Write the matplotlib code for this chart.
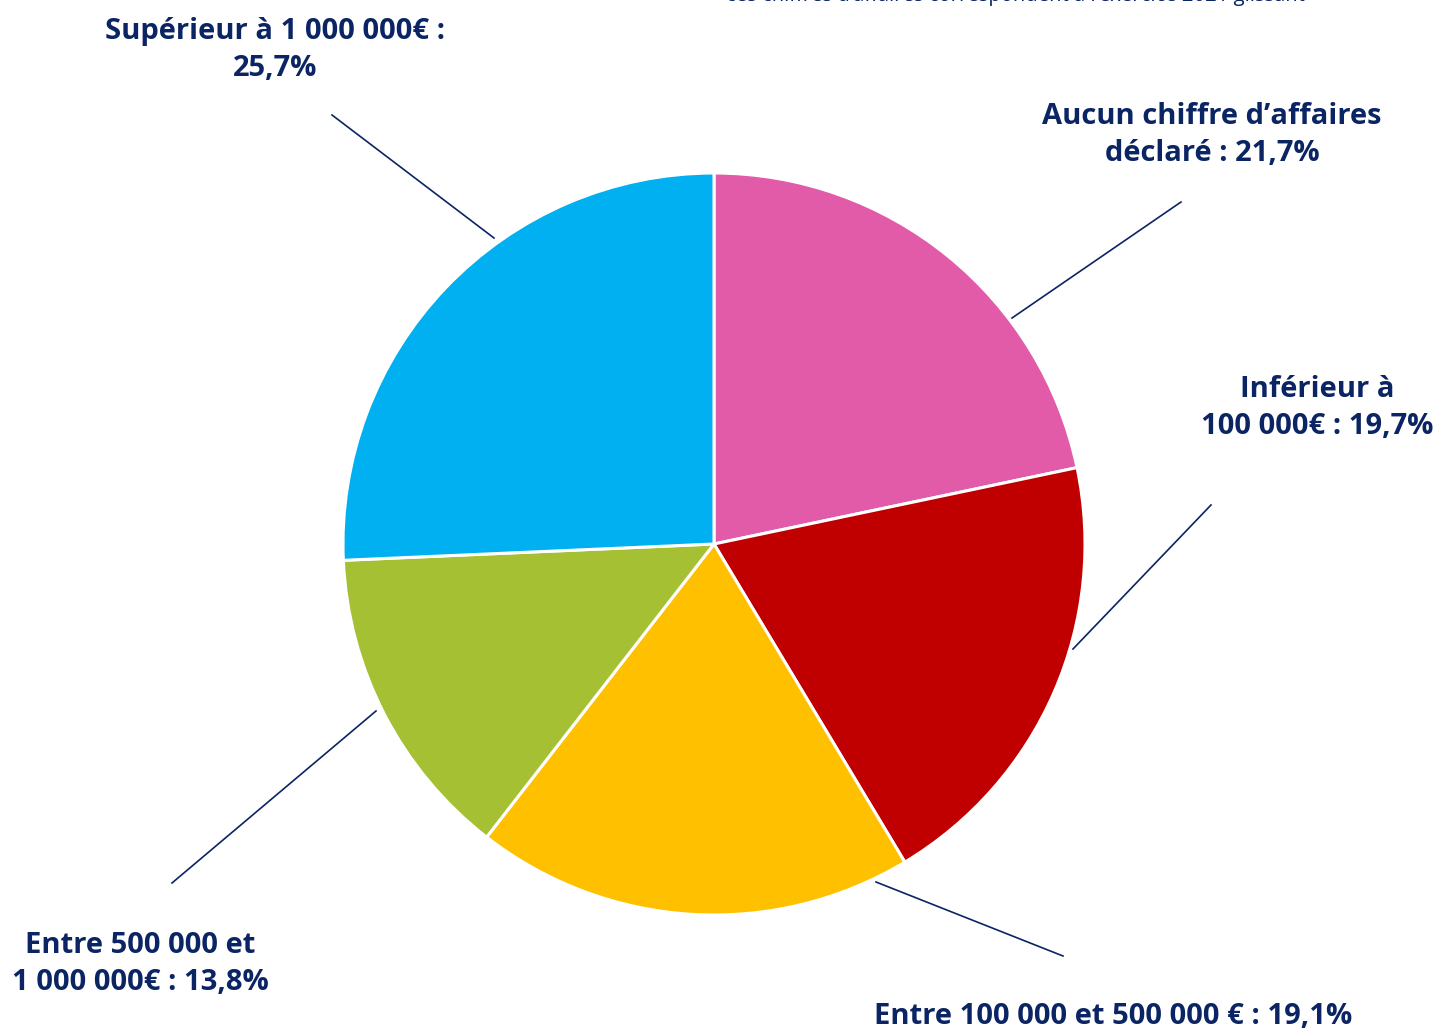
import matplotlib
matplotlib.use("Agg")
import matplotlib.pyplot as plt

categories = ["Aucun chiffre d’affaires\ndéclaré", "Inférieur à\n100 000€", "Entre 100 000 et 500 000 €",
              "Entre 500 000 et\n1 000 000€", "Supérieur à 1 000 000€"]
values = [21.7, 19.7, 19.1, 13.8, 25.7]
colors = ["#E15BA9", "#C00000", "#FFC000", "#A5C033", "#00B0F0"]
label_texts = ["Aucun chiffre d’affaires\ndéclaré : 21,7%", "Inférieur à\n100 000€ : 19,7%",
               "Entre 100 000 et 500 000 € : 19,1%", "Entre 500 000 et\n1 000 000€ : 13,8%",
               "Supérieur à 1 000 000€ :\n25,7%"]
note = "ces chiffres d’affaires correspondent à l’exercice 2021 glissant"

W, H = 1437, 1028
NAVY = "#0B2463"
plt.rcParams['font.family'] = ['Open Sans', 'DejaVu Sans']

fig = plt.figure(figsize=(W / 100, H / 100), dpi=100)
ax = fig.add_axes([0, 0, 1, 1])

def py(y):
    return H - y

ax.pie(values, colors=colors, startangle=90, counterclock=False,
       center=(714, py(544)), radius=371,
       wedgeprops=dict(edgecolor='white', linewidth=2.2))
ax.set_xlim(0, W)
ax.set_ylim(0, H)
ax.set_aspect('equal')
ax.axis('off')

# label positions (pixels) and leader lines
label_pos = [(1212, 135), (1317, 408), (1113, 1016), (140, 964), (275, 50)]
leaders = [((1181, 202), (1012, 318)), ((1211, 505), (1073, 649)), ((876, 882), (1063, 956)),
           ((376, 711), (172, 883)), ((332, 115), (494, 238))]

for txt, (x, y) in zip(label_texts, label_pos):
    ax.text(x, py(y), txt, ha='center', va='center', fontsize=21, fontweight='bold',
            color=NAVY, linespacing=1.38)
for (a, b) in leaders:
    ax.plot([a[0], b[0]], [py(a[1]), py(b[1])], color=NAVY, lw=1.2)

ax.text(1015, py(-4), note, ha='center', va='center', fontsize=14.6, color=NAVY)

fig.savefig("out.png", dpi=100)
